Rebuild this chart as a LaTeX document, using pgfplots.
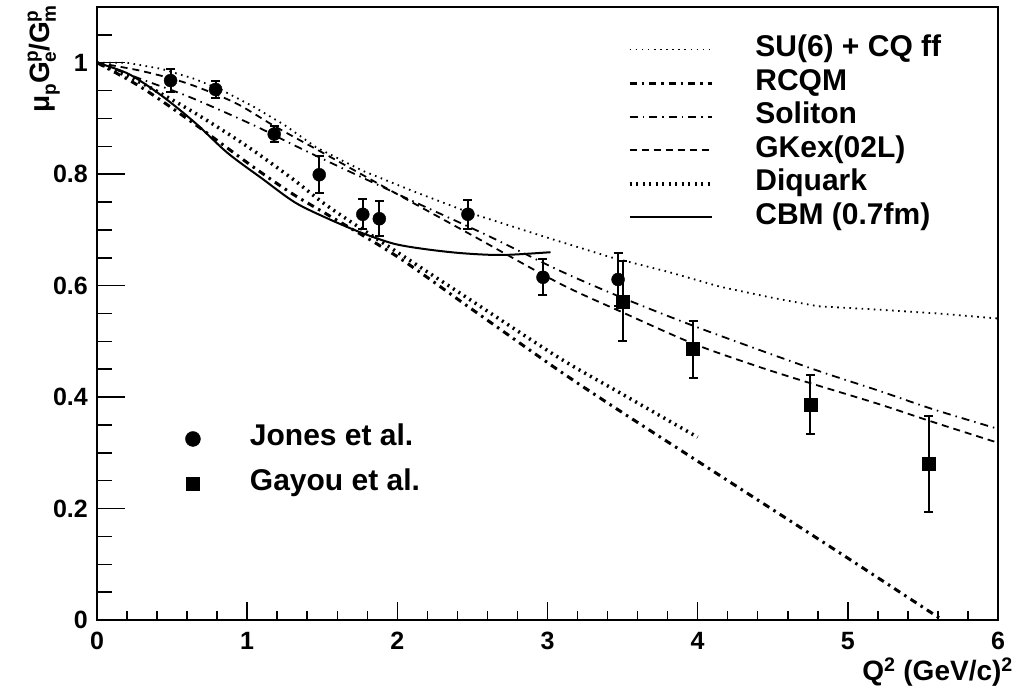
\documentclass[border=0pt]{standalone}
\usepackage{fontspec}
\setmainfont{Liberation Sans}
\usepackage{pgfplots}
\pgfplotsset{compat=1.18}
\newcommand{\tlfont}{\fontsize{25}{30}\selectfont\bfseries}
\newcommand{\lgfont}{\fontsize{30}{36}\selectfont\bfseries}
\newcommand{\lbfont}{\fontsize{28}{34}\selectfont\bfseries}
\newcommand{\scr}{\fontsize{19}{20}\selectfont\bfseries}
\newcommand{\supsub}[2]{\rlap{\raisebox{12pt}{\scr #1}}\raisebox{-6pt}{\scr #2}}
\begin{document}
\begin{tikzpicture}
% ---------- axis 1 : model curves, x ticks, labels ----------
\begin{axis}[
  scale only axis, width=901pt, height=613pt,
  xmin=0, xmax=6, ymin=0, ymax=1.1,
  axis line style={line width=1.5pt},
  tick align=inside, tick pos=left,
  xtick={0,1,2,3,4,5,6}, minor x tick num=4, ytick=\empty,
  major tick length=18pt, minor tick length=9pt,
  tick style={line width=1.5pt, black},
  /pgf/number format/assume math mode=true,
  xticklabel style={font=\tlfont, inner sep=0pt, yshift=-12pt},
  xlabel={Q\textsuperscript{2} (GeV/c)\textsuperscript{2}},
  ylabel={μ\raisebox{-6pt}{\scr p}G\supsub{p}{e}/G\supsub{p}{m}},
  every axis x label/.style={at={(axis description cs:1.0167,-0.0995)}, anchor=base east, inner sep=0pt, font=\lbfont},
  every axis y label/.style={at={(axis description cs:-0.0522,1.0033)}, rotate=90, anchor=base east, inner sep=0pt, font=\lbfont},
  legend cell align=left,
  legend style={at={(axis cs:3.535,1.0471)}, anchor=north west, draw=none, fill=none,
    inner sep=0pt, outer sep=0pt, row sep=7.6pt, font=\lgfont,
    nodes={inner sep=0pt, text height=20pt, text depth=6pt},
    /tikz/every odd column/.append style={column sep=42pt}},
  legend image code/.code={\path (0pt,9pt); \draw[#1] (0pt,0pt) -- (82pt,0pt);},
]
% SU(6) + CQ ff
\addplot[black, line width=1.8pt, dash pattern=on 1.6pt off 4.5pt] table {
0 1.000
0.2 1.000
0.43 0.989
0.65 0.971
0.83 0.951
1.05 0.920
1.25 0.888
1.46 0.848
1.77 0.806
2.1 0.770
2.5 0.729
3.0 0.686
3.42 0.651
3.8 0.625
4.15 0.598
4.5 0.578
4.8 0.563
5.2 0.557
5.6 0.550
6.0 0.541
};
\addlegendentry{SU(6) + CQ ff}
% RCQM
\addplot[black, line width=3pt, dash pattern=on 7pt off 5pt on 2.5pt off 5pt, smooth] table {
0 1.000
0.3 0.955
0.65 0.890
1.03 0.815
1.3 0.765
1.55 0.725
2.0 0.652
2.5 0.557
3.08 0.447
3.5 0.372
4.0 0.285
4.5 0.198
5.0 0.111
5.63 0.000
};
\addlegendentry{RCQM}
% Soliton
\addplot[black, line width=1.8pt, dash pattern=on 8pt off 5pt on 1.5pt off 5pt, smooth] table {
0 1.000
0.32 0.968
0.63 0.937
1.05 0.887
1.32 0.851
1.6 0.815
2.1 0.752
2.6 0.690
3.08 0.627
3.5 0.578
4.0 0.525
4.75 0.452
5.2 0.412
5.57 0.378
6.0 0.343
};
\addlegendentry{Soliton}
% GKex(02L)
\addplot[black, line width=1.8pt, dash pattern=on 7pt off 5pt, smooth] table {
0 1.000
0.3 0.985
0.6 0.963
0.92 0.928
1.19 0.885
1.54 0.833
1.98 0.767
2.5 0.690
3.08 0.604
3.5 0.552
3.97 0.496
4.4 0.455
4.75 0.425
5.2 0.388
5.57 0.355
6.0 0.318
};
\addlegendentry{GKex(02L)}
% Diquark
\addplot[black, line width=3.5pt, dash pattern=on 2pt off 4.5pt, smooth] table {
0 1.000
0.3 0.963
0.65 0.910
1.0 0.850
1.3 0.792
1.55 0.740
2.0 0.660
2.5 0.572
3.08 0.470
3.5 0.405
4.0 0.328
};
\addlegendentry{Diquark}
% CBM (0.7fm)
\addplot[black, line width=2pt, smooth] table {
0 1.000
0.21 0.980
0.43 0.941
0.65 0.893
0.87 0.838
1.1 0.792
1.32 0.749
1.54 0.720
1.76 0.695
1.98 0.675
2.2 0.665
2.44 0.658
2.7 0.655
3.02 0.660
};
\addlegendentry{CBM (0.7fm)}
\end{axis}
% ---------- axis 2 : data points, y ticks ----------
\begin{axis}[
  scale only axis, width=901pt, height=613pt,
  xmin=0, xmax=6, ymin=0, ymax=1.1,
  axis line style={line width=1.5pt},
  tick align=inside, tick pos=left,
  xtick=\empty, ytick={0,0.2,0.4,0.6,0.8,1},
  minor ytick={0,0.05,...,1.06},
  major tick length=28pt, minor tick length=15pt,
  tick style={line width=1.5pt, black},
  /pgf/number format/assume math mode=true,
  yticklabel style={font=\tlfont, inner sep=0pt, xshift=-9pt},
  legend cell align=left,
  legend style={at={(axis cs:0.589,0.3482)}, anchor=north west, draw=none, fill=none,
    inner sep=0pt, outer sep=0pt, row sep=19pt, font=\lgfont,
    nodes={inner sep=0pt, text height=20pt, text depth=6pt},
    /tikz/every odd column/.append style={column sep=49.5pt}},
  legend image code/.code={\draw[#1] plot coordinates {(0pt,0pt)};},
]
\addplot[forget plot, black, only marks, mark=*, mark size=6.5pt,
  error bars/.cd, y dir=both, y explicit,
  error bar style={line width=2pt, black},
  error mark options={rotate=90, line width=2pt, mark size=4.5pt, black}]
  table[x=x, y=y, y error=e] {
x y e
0.49 0.968 0.021
0.79 0.952 0.015
1.18 0.872 0.014
1.48 0.799 0.033
1.77 0.728 0.027
1.88 0.720 0.031
2.47 0.728 0.026
2.97 0.615 0.032
3.47 0.611 0.047
};
\addplot[forget plot, black, only marks, mark=square*, mark size=6.5pt,
  error bars/.cd, y dir=both, y explicit,
  error bar style={line width=2pt, black},
  error mark options={rotate=90, line width=2pt, mark size=4.5pt, black}]
  table[x=x, y=y, y error=e] {
x y e
3.50 0.572 0.072
3.97 0.486 0.051
4.75 0.387 0.053
5.54 0.280 0.086
};
\addlegendimage{black, mark=*, mark size=7.5pt}
\addlegendentry{Jones et al.}
\addlegendimage{black, mark=square*, mark size=6.5pt}
\addlegendentry{Gayou et al.}
\end{axis}
\pgfresetboundingbox
\path (-97pt,-69pt) rectangle (921pt,620pt);
\end{tikzpicture}
\end{document}
